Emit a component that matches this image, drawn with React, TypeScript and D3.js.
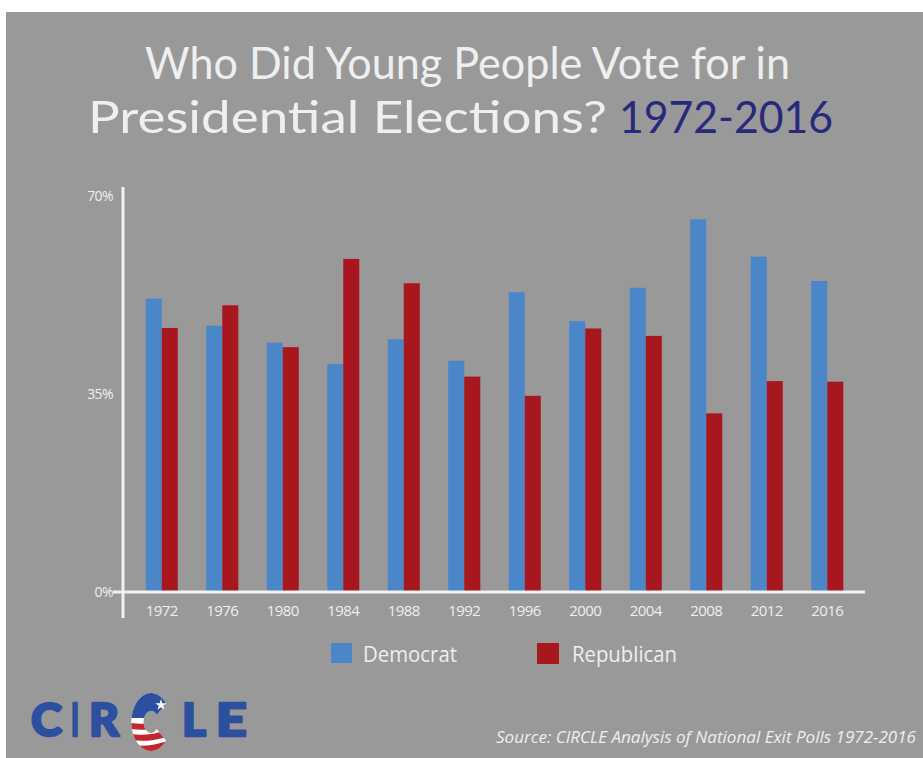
import React from "react";
import * as d3 from "d3";

const years = ["1972", "1976", "1980", "1984", "1988", "1992", "1996", "2000", "2004", "2008", "2012", "2016"];
const democrat = [51.7, 46.9, 43.9, 40.1, 44.5, 40.7, 52.8, 47.7, 53.6, 65.7, 59.1, 54.8];
const republican = [46.5, 50.5, 43.1, 58.7, 54.4, 37.9, 34.5, 46.4, 45.1, 31.4, 37.1, 37.0];
const yTicks = [0, 35, 70];
const seriesNames = ["Democrat", "Republican"];
const seriesColors = ["#4a86c8", "#a8171d"];

const W = 923;
const H = 758;
const BG = "#999999";
const TXT = "#efefef";
const FONT = "'Open Sans', 'DejaVu Sans', sans-serif";
const TITLE_FONT = "Lato, 'Open Sans', sans-serif";
const LOGO_BLUE = "#2d4f9f";

export default function App() {
  const x = d3.scaleBand<string>().domain(years).range([131.5, 857.5]).paddingInner(0.47).paddingOuter(0.235);
  const xs = d3.scaleBand<string>().domain(seriesNames).range([0, x.bandwidth()]);
  const y = d3.scaleLinear().domain([0, 70]).range([591, 195]);
  const series = [democrat, republican];

  const cArc = d3.arc()({
    innerRadius: 11,
    outerRadius: 29,
    startAngle: Math.PI / 2 + 0.7,
    endAngle: Math.PI * 2 + Math.PI / 2 - 0.7,
  } as any) as string;

  const stripeYs = [720, 731, 742];

  return (
    <svg width={W} height={H} style={{ position: "absolute", left: 0, top: 0 }}>
      <defs>
        <clipPath id="flagC">
          <path d={cArc} transform="translate(151,722) scale(0.68,1)" />
        </clipPath>
      </defs>
      <rect x={0} y={0} width={W} height={H} fill="#ffffff" />
      <rect x={6} y={12} width={W - 6} height={H - 12} fill={BG} />

      {/* Title */}
      <text x={145} y={79} fontFamily={TITLE_FONT} fontWeight={400} fontSize={44} fill={TXT} textLength={645} lengthAdjust="spacingAndGlyphs">Who Did Young People Vote for in</text>
      <text x={88} y={133} fontFamily={TITLE_FONT} fontWeight={400} fontSize={44} fill={TXT} textLength={519} lengthAdjust="spacingAndGlyphs">Presidential Elections?</text>
      <text x={619} y={133} fontFamily={TITLE_FONT} fontWeight={400} fontSize={44} fill="#29297c" textLength={214} lengthAdjust="spacingAndGlyphs">1972-2016</text>

      {/* Bars */}
      {years.map((yr, i) => (
        <g key={yr} transform={`translate(${x(yr)},0)`}>
          {seriesNames.map((s, j) => (
            <rect key={s} x={xs(s)} y={y(series[j][i])} width={xs.bandwidth()} height={y(0) - y(series[j][i])} fill={seriesColors[j]} />
          ))}
        </g>
      ))}

      {/* Axes */}
      <line x1={123} x2={123} y1={187} y2={618} stroke="#f2f2f2" strokeWidth={3} />
      <line x1={113} x2={865} y1={592} y2={592} stroke="#f2f2f2" strokeWidth={3} />
      {yTicks.map((t) => (
        <text key={t} x={113} y={y(t)} textAnchor="end" dominantBaseline="central" fontFamily={FONT} fontWeight={400} fontSize={14} fill={TXT} letterSpacing={-0.6}>
          {t}%
        </text>
      ))}
      {years.map((yr) => (
        <text key={yr} x={(x(yr) as number) + x.bandwidth() / 2} y={610} textAnchor="middle" dominantBaseline="central" fontFamily={FONT} fontWeight={400} fontSize={15} fill={TXT} letterSpacing={-0.6}>
          {yr}
        </text>
      ))}

      {/* Legend */}
      <rect x={331} y={643} width={21} height={20} fill={seriesColors[0]} />
      <text x={363} y={653} dominantBaseline="central" fontFamily={FONT} fontWeight={400} fontSize={22} fill={TXT} textLength={94} lengthAdjust="spacingAndGlyphs">{seriesNames[0]}</text>
      <rect x={537} y={643} width={22} height={21} fill={seriesColors[1]} />
      <text x={572} y={653} dominantBaseline="central" fontFamily={FONT} fontWeight={400} fontSize={22} fill={TXT} textLength={105} lengthAdjust="spacingAndGlyphs">{seriesNames[1]}</text>

      {/* Logo */}
      <g fontFamily="Lato, sans-serif" fontWeight={900} fontSize={46} fill={LOGO_BLUE} stroke={LOGO_BLUE} strokeWidth={2.4} strokeLinejoin="round">
        <text x={31} y={736} textLength={31} lengthAdjust="spacingAndGlyphs">C</text>
        <text x={71} y={736} textLength={8} lengthAdjust="spacingAndGlyphs">I</text>
        <text x={89} y={736} textLength={30} lengthAdjust="spacingAndGlyphs">R</text>
        <text x={182} y={736} textLength={24} lengthAdjust="spacingAndGlyphs">L</text>
        <text x={216} y={736} textLength={31} lengthAdjust="spacingAndGlyphs">E</text>
      </g>
      <g clipPath="url(#flagC)">
        <rect x={120} y={690} width={60} height={65} fill="#ffffff" />
        <rect x={120} y={690} width={60} height={28} fill={LOGO_BLUE} />
        {stripeYs.map((sy) => (
          <path key={sy} d={`M118 ${sy} Q145 ${sy + 9} 175 ${sy - 4} L175 ${sy + 3} Q145 ${sy + 15} 118 ${sy + 6} Z`} fill="#c0282d" />
        ))}
      </g>
      <path d={d3.symbol(d3.symbolStar, 40)() as string} transform="translate(161,705)" fill="#ffffff" />

      {/* Source */}
      <text x={496} y={743} fontFamily={FONT} fontStyle="italic" fontWeight={400} fontSize={16.5} fill={TXT} textLength={420} lengthAdjust="spacingAndGlyphs">
        Source: CIRCLE Analysis of National Exit Polls 1972-2016
      </text>
    </svg>
  );
}
